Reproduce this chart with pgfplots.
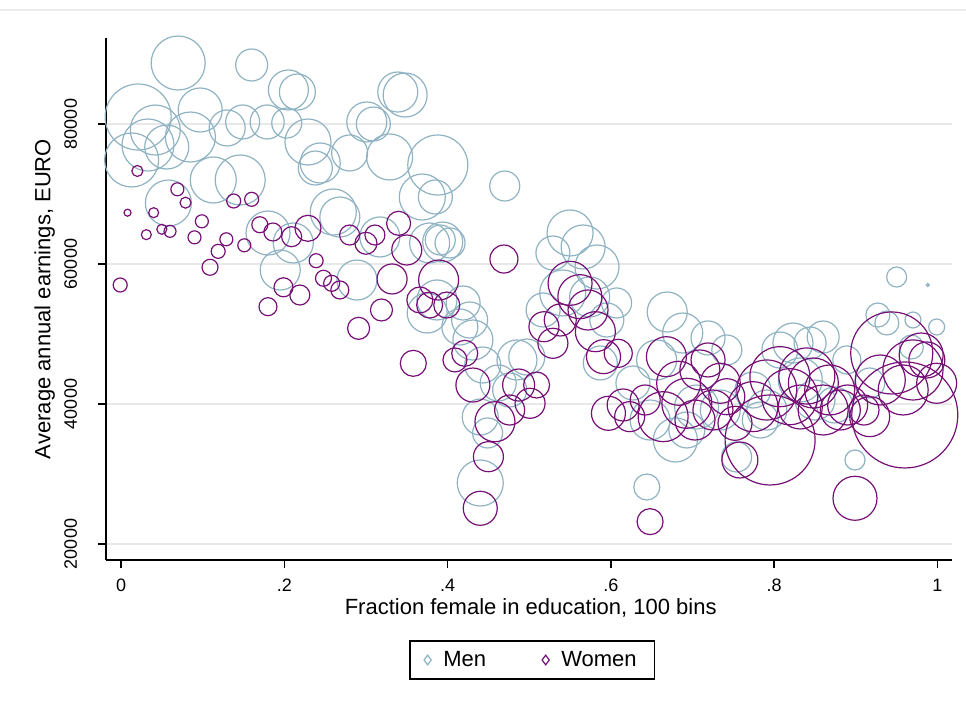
\documentclass[border=0pt]{standalone}
\usepackage{fontspec}
\setmainfont{Liberation Sans}
\usepackage{pgfplots}
\usepackage{pgfplotstable}
\pgfplotsset{compat=1.18}
\definecolor{menc}{RGB}{143,179,194}
\definecolor{womc}{RGB}{118,16,118}

% x = fraction female, y = average annual earnings (EURO), r = bubble radius (weight)
\pgfplotstableread{
x y r
0.013 74860 27
0.021 81000 33
0.033 77000 26
0.042 79140 25
0.056 76710 22
0.070 88710 27
0.085 78140 25
0.097 82000 22
0.058 68710 23
0.113 72000 23
0.130 79430 18
0.146 72000 25
0.149 80290 17
0.160 88430 16
0.179 80290 17
0.180 64430 22
0.195 59140 20
0.205 84860 20
0.216 84570 18
0.203 80140 15
0.229 77430 23
0.238 73710 17
0.244 74430 20
0.260 67430 23
0.268 66710 20
0.280 75860 18
0.289 57710 20
0.301 80290 20
0.309 80000 17
0.317 63860 20
0.329 75290 23
0.339 84570 20
0.348 84140 22
0.369 69570 23
0.378 63000 20
0.387 54860 20
0.375 53000 20
0.388 74140 30
0.394 63140 20
0.211 63000 20
0.415 51000 18
0.385 69570 17
0.391 63430 15
0.403 63000 15
0.419 54430 17
0.427 52000 18
0.431 49140 20
0.443 45570 18
0.440 38140 18
0.449 35860 15
0.440 28710 23
0.462 43000 18
0.470 71140 15
0.476 42000 17
0.485 46290 20
0.497 46710 18
0.517 53430 17
0.529 61570 17
0.541 55860 23
0.550 64430 23
0.566 62430 22
0.574 55290 20
0.583 59570 22
0.587 45860 17
0.595 52000 17
0.607 54430 15
0.644 28140 13
0.627 43000 17
0.656 46290 20
0.669 53140 20
0.688 50140 20
0.693 36290 18
0.705 39570 22
0.719 49430 17
0.742 47710 15
0.754 32430 15
0.774 42000 18
0.791 39140 20
0.807 47710 18
0.823 48710 20
0.844 48710 16
0.860 49570 16
0.889 46290 14
0.899 32000 10
0.917 43000 15
0.927 52710 12
0.938 51570 12
0.950 58140 10
0.970 52000 8
0.968 48140 12
0.988 57000 1.5
0.999 51000 8
0.648 37710 20
0.679 34860 22
0.734 39140 20
0.832 43430 22
0.850 40570 20
0.874 39860 18
0.783 37710 18
}\mentable

\pgfplotstableread{
x y r
-0.001 57000 7
0.008 67330 3.5
0.020 73290 5.5
0.031 64190 5
0.040 67330 5
0.050 64960 5
0.060 64670 6
0.069 70670 6.5
0.079 68760 5.5
0.090 63810 6.5
0.099 66100 6.5
0.109 59530 8
0.119 61810 7
0.129 63530 6.5
0.138 69000 7
0.151 62670 6.5
0.160 69240 7
0.170 65610 8
0.180 53900 9
0.186 64570 9
0.199 56670 9.5
0.209 63900 10
0.219 55570 10
0.229 65100 13
0.239 60470 7
0.248 57960 8
0.258 57240 8
0.268 56290 9
0.280 64140 10
0.291 50810 11
0.300 62960 11
0.311 64140 10
0.319 53430 11
0.332 57860 15
0.340 65810 12
0.350 62000 15
0.358 45810 13
0.366 54860 13
0.378 54140 13
0.389 57710 20
0.399 54140 13
0.409 46290 12
0.421 47240 13
0.431 42710 17
0.440 25100 17
0.450 32470 15
0.458 37470 20
0.469 60710 14
0.476 39140 15
0.487 42710 16
0.501 40100 15
0.509 42710 13
0.518 51040 15
0.529 48670 15
0.538 52000 16
0.550 57240 22
0.562 55330 22
0.572 53430 20
0.581 50330 20
0.591 46760 17
0.597 38670 17
0.609 47240 14
0.615 39860 16
0.623 38190 15
0.642 40570 15
0.648 23190 13
0.664 38190 25
0.668 46760 20
0.683 42960 22
0.693 40100 25
0.703 37710 20
0.709 44860 20
0.719 46290 17
0.725 39140 20
0.734 42960 20
0.742 41040 18
0.752 37240 17
0.758 32000 18
0.774 39620 25
0.791 42000 30
0.795 34860 45
0.807 43900 30
0.819 41040 28
0.832 39570 22
0.840 44000 28
0.848 43000 25
0.860 39140 25
0.868 42000 25
0.881 39140 20
0.890 39860 20
0.899 26530 22
0.910 39140 15
0.917 38190 20
0.930 43430 25
0.944 47290 41
0.958 42000 25
0.960 38430 53
0.970 44860 30
0.980 47000 22
0.987 46290 18
0.999 42960 20
}\womentable

\begin{document}
\begin{tikzpicture}
\path[use as bounding box] (0,0) rectangle (483pt,355.5pt);
\draw[black!7, line width=0.6pt] (0,350.5pt) -- (483pt,350.5pt);
\begin{axis}[
  at={(53pt,75.5pt)}, anchor=south west,
  scale only axis, width=423pt, height=261pt,
  xmin=-0.0184, xmax=1.0178, ymin=17714, ymax=92286,
  clip=false,
  axis lines*=left,
  axis line style={line width=0.8pt, black},
  tick align=outside, major tick length=4pt,
  tick style={line width=0.8pt, black},
  xtick={0,0.2,0.4,0.6,0.8,1},
  xticklabels={0,.2,.4,.6,.8,1},
  ytick={20000,40000,60000,80000},
  scaled y ticks=false,
  /pgf/number format/.cd, fixed, 1000 sep={}, assume math mode=true,
  /pgfplots/.cd,
  ymajorgrids, grid style={black!9, line width=0.7pt},
  ticklabel style={font=\fontsize{9}{10}\selectfont},
  yticklabel style={rotate=90, anchor=south, yshift=7pt},
  xticklabel style={yshift=-2pt},
  xlabel={Fraction female in education, 100 bins},
  ylabel={Average annual earnings, EURO},
  label style={font=\fontsize{11}{12}\selectfont},
  xlabel style={at={(axis description cs:0.502,-0.092)}, anchor=center},
  ylabel style={at={(axis description cs:-0.0724,0.5)}, anchor=center},
  legend columns=2,
  legend style={at={(axis description cs:0.504,-0.1916)}, anchor=center,
    draw=black, line width=0.8pt, font=\fontsize{11}{12}\selectfont,
    inner xsep=7pt, inner ysep=3pt,
    /tikz/every odd column/.append style={column sep=4pt},
    /tikz/every even column/.append style={column sep=26pt}},
]
\addlegendimage{only marks, mark=diamond, mark size=2.4pt, draw=menc, line width=0.6pt}
\addlegendimage{only marks, mark=diamond, mark size=2.4pt, draw=womc, line width=0.6pt}
\legend{Men, Women}
\addplot[forget plot, scatter, only marks, mark=o, line width=0.6pt,
  scatter/use mapped color={draw=menc, fill=none},
  visualization depends on={0.5*\thisrow{r} \as \rad},
  scatter/@pre marker code/.append style={/tikz/mark size=\rad}]
  table[x=x, y=y] {\mentable};
\addplot[forget plot, scatter, only marks, mark=o, line width=0.6pt,
  scatter/use mapped color={draw=womc, fill=none},
  visualization depends on={0.5*\thisrow{r} \as \rad},
  scatter/@pre marker code/.append style={/tikz/mark size=\rad}]
  table[x=x, y=y] {\womentable};
\end{axis}
\end{tikzpicture}
\end{document}
